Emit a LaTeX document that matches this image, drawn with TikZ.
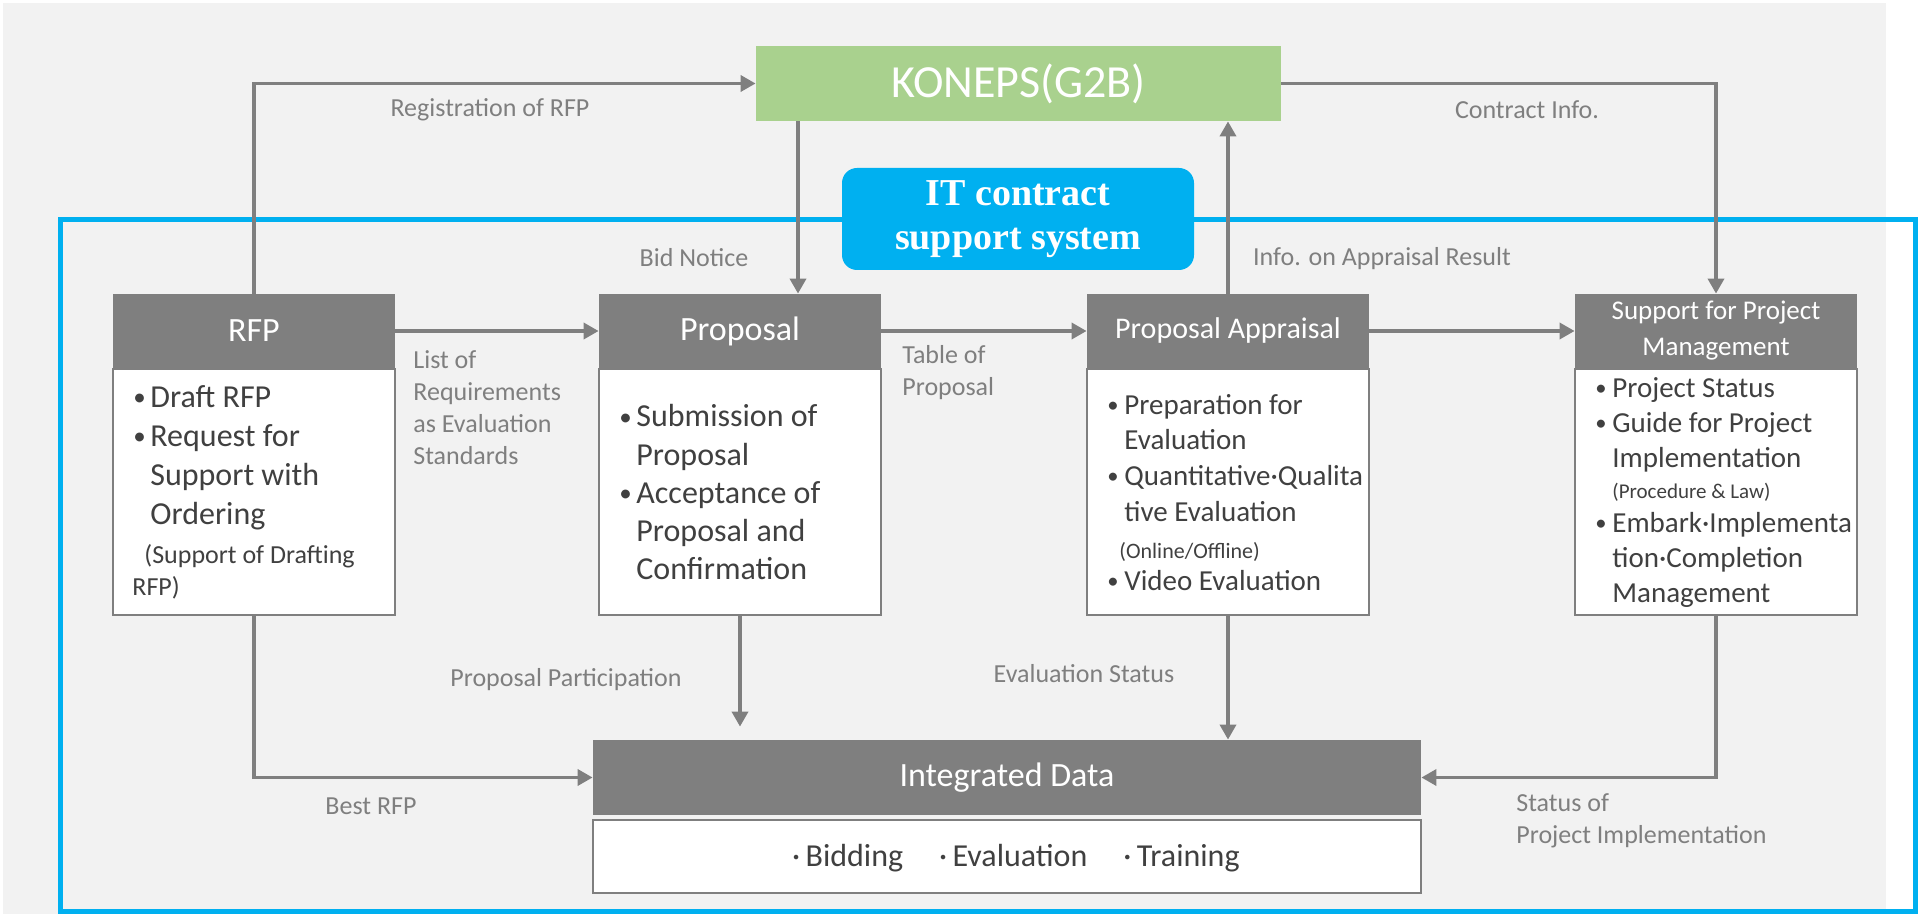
\documentclass[tikz,border=0pt]{standalone}
\usepackage{graphicx}
\usepackage{fontspec}
\setmainfont{Carlito}
\newfontfamily\serifbold{Liberation Serif}
\usetikzlibrary{arrows.meta,positioning,calc}
\definecolor{boxgray}{HTML}{7F7F7F}
\definecolor{bggray}{HTML}{F2F2F2}
\definecolor{konepsgreen}{HTML}{A9D18E}
\definecolor{itblue}{HTML}{00B0F0}
\definecolor{inkdark}{HTML}{404040}
\definecolor{labelgray}{HTML}{7F7F7F}
\newcommand{\pitem}[1]{\makebox[9pt][l]{\hspace{0.5pt}\raisebox{0.06em}{\scalebox{0.78}{\textbullet}}}#1}
\newcommand{\pcont}[1]{\hspace*{9pt}#1}

\begin{document}
\begin{tikzpicture}[x=0.5pt, y=-0.5pt, >={Triangle[length=7.5pt,width=8pt]},
  head/.style={fill=boxgray, text=white, minimum width=141pt, minimum height=37pt, inner sep=0pt, align=center},
  body/.style={draw=boxgray, line width=1pt, fill=white, minimum width=141pt, minimum height=123pt, inner sep=0pt},
  bodytext/.style={text=inkdark, align=left, inner sep=0pt, anchor=west},
  flow/.style={draw=boxgray, line width=1.75pt, ->},
  lbl/.style={text=labelgray, font=\fontsize{13}{16}\selectfont, inner sep=0pt}]
\useasboundingbox (0,0) rectangle (1918,914);
\fill[white] (0,0) rectangle (1918,914);
\fill[bggray] (3,3) rectangle (1886,914);
\draw[itblue, line width=2.5pt] (60,220) rectangle (1915,911);
% top system
\node[fill=konepsgreen, text=white, minimum width=262.5pt, minimum height=37.5pt, inner sep=0pt, font=\fontsize{23}{28}\selectfont] (kon) at (1018.5,83.5) {KONEPS(G2B)};
\node[fill=itblue, text=white, rounded corners=7.5pt, minimum width=176pt, minimum height=51pt, inner sep=0pt, align=center, font=\serifbold\bfseries\fontsize{19}{22}\selectfont] (itsys) at (1018,219) {IT contract\\support system};
% process boxes
\node[head, font=\fontsize{17}{20}\selectfont] (rfp) at (254,331) {RFP};
\node[head, font=\fontsize{17}{20}\selectfont] (prop) at (740,331) {Proposal};
\node[head, font=\fontsize{15}{18}\selectfont] (appr) at (1228,331) {Proposal Appraisal};
\node[head, font=\fontsize{13.5}{18}\selectfont] (supp) at (1716,331) {Support for Project\\Management};
\node[body, below=0pt of rfp] (rfpbody) {};
\node[body, below=0pt of prop] (propbody) {};
\node[body, below=0pt of appr] (apprbody) {};
\node[body, below=0pt of supp] (suppbody) {};
\node[bodytext, font=\fontsize{16}{19.5}\selectfont] (rfptext) at ([xshift=10pt]rfpbody.west) {\pitem{Draft RFP}\\\pitem{Request for}\\\pcont{Support with}\\\pcont{Ordering}\\{\fontsize{13}{16}\selectfont\hspace*{6pt}(Support of Drafting}\\[-3.5pt]{\fontsize{13}{16}\selectfont RFP)}};
\node[bodytext, font=\fontsize{16}{19.1}\selectfont] (proptext) at ([xshift=10pt]propbody.west) {\pitem{Submission of}\\\pcont{Proposal}\\\pitem{Acceptance of}\\\pcont{Proposal and}\\\pcont{Confirmation}};
\node[bodytext, font=\fontsize{14.5}{17.8}\selectfont] (apprtext) at ([xshift=10pt]apprbody.west) {\pitem{Preparation for}\\\pcont{Evaluation}\\\pitem{Quantitative·Qualita}\\\pcont{tive Evaluation}\\[1pt]{\fontsize{11}{13}\selectfont\hspace*{6.5pt}(Online/Offline)}\\[-2pt]\pitem{Video Evaluation}};
\node[bodytext, font=\fontsize{14.5}{17.6}\selectfont] (supptext) at ([xshift=10pt]suppbody.west) {\pitem{Project Status}\\\pitem{Guide for Project}\\\pcont{Implementation}\\[-2pt]{\fontsize{10.5}{12}\selectfont\hspace*{9pt}(Procedure \& Law)}\\[-1pt]\pitem{Embark·Implementa}\\\pcont{tion·Completion}\\\pcont{Management}};
% integrated data
\node[head, minimum width=414pt, minimum height=37.5pt, font=\fontsize{17}{20}\selectfont] (data) at (1007,777.5) {Integrated Data};
\node[body, minimum width=414pt, minimum height=36.5pt] (databody) at (1007,856.5) {};
\node[text=inkdark, inner sep=0pt, font=\fontsize{16}{19}\selectfont] (datatext) at (1016,858) {·\,Bidding\hspace{18pt}·\,Evaluation\hspace{18pt}·\,Training};
% connectors
\draw[flow] (rfp.north) |- (kon.west);
\draw[flow] ([xshift=29pt]prop.north |- kon.south) -- ([xshift=29pt]prop.north);
\draw[flow] (appr.north) -- (appr.north |- kon.south);
\draw[flow] (kon.east) -| (supp.north);
\draw[flow] (rfp.east) -- (prop.west);
\draw[flow] (prop.east) -- (appr.west);
\draw[flow] (appr.east) -- (supp.west);
\coordinate (partend) at ([yshift=6.5pt]data.north -| propbody.south);
\draw[flow] (rfpbody.south) |- (data.west);
\draw[flow] (propbody.south) -- (partend);
\draw[flow] (apprbody.south) -- (apprbody.south |- data.north);
\draw[flow] (suppbody.south) |- (data.east);
% labels
\node[lbl] (lregist) at (490,110) {Registration of RFP};
\node[lbl] (lbid) at (694,258) {Bid Notice};
\node[lbl] (lcontract) at (1527,110) {Contract Info.};
\node[lbl] (lresult) at (1382,259) {Info. on Appraisal Result};
\node[lbl, align=left, anchor=west] (lreq) at (413,408) {List of\\Requirements\\as Evaluation\\Standards};
\node[lbl, align=left, anchor=west] (ltable) at (902,373) {Table of\\Proposal};
\node[lbl] (lpart) at (566,680) {Proposal Participation};
\node[lbl] (lbest) at (371,806) {Best RFP};
\node[lbl] (levalst) at (1084,674) {Evaluation Status};
\node[lbl, align=left, anchor=west] (lstatus) at (1516,821) {Status of\\Project Implementation};
\end{tikzpicture}
\end{document}
